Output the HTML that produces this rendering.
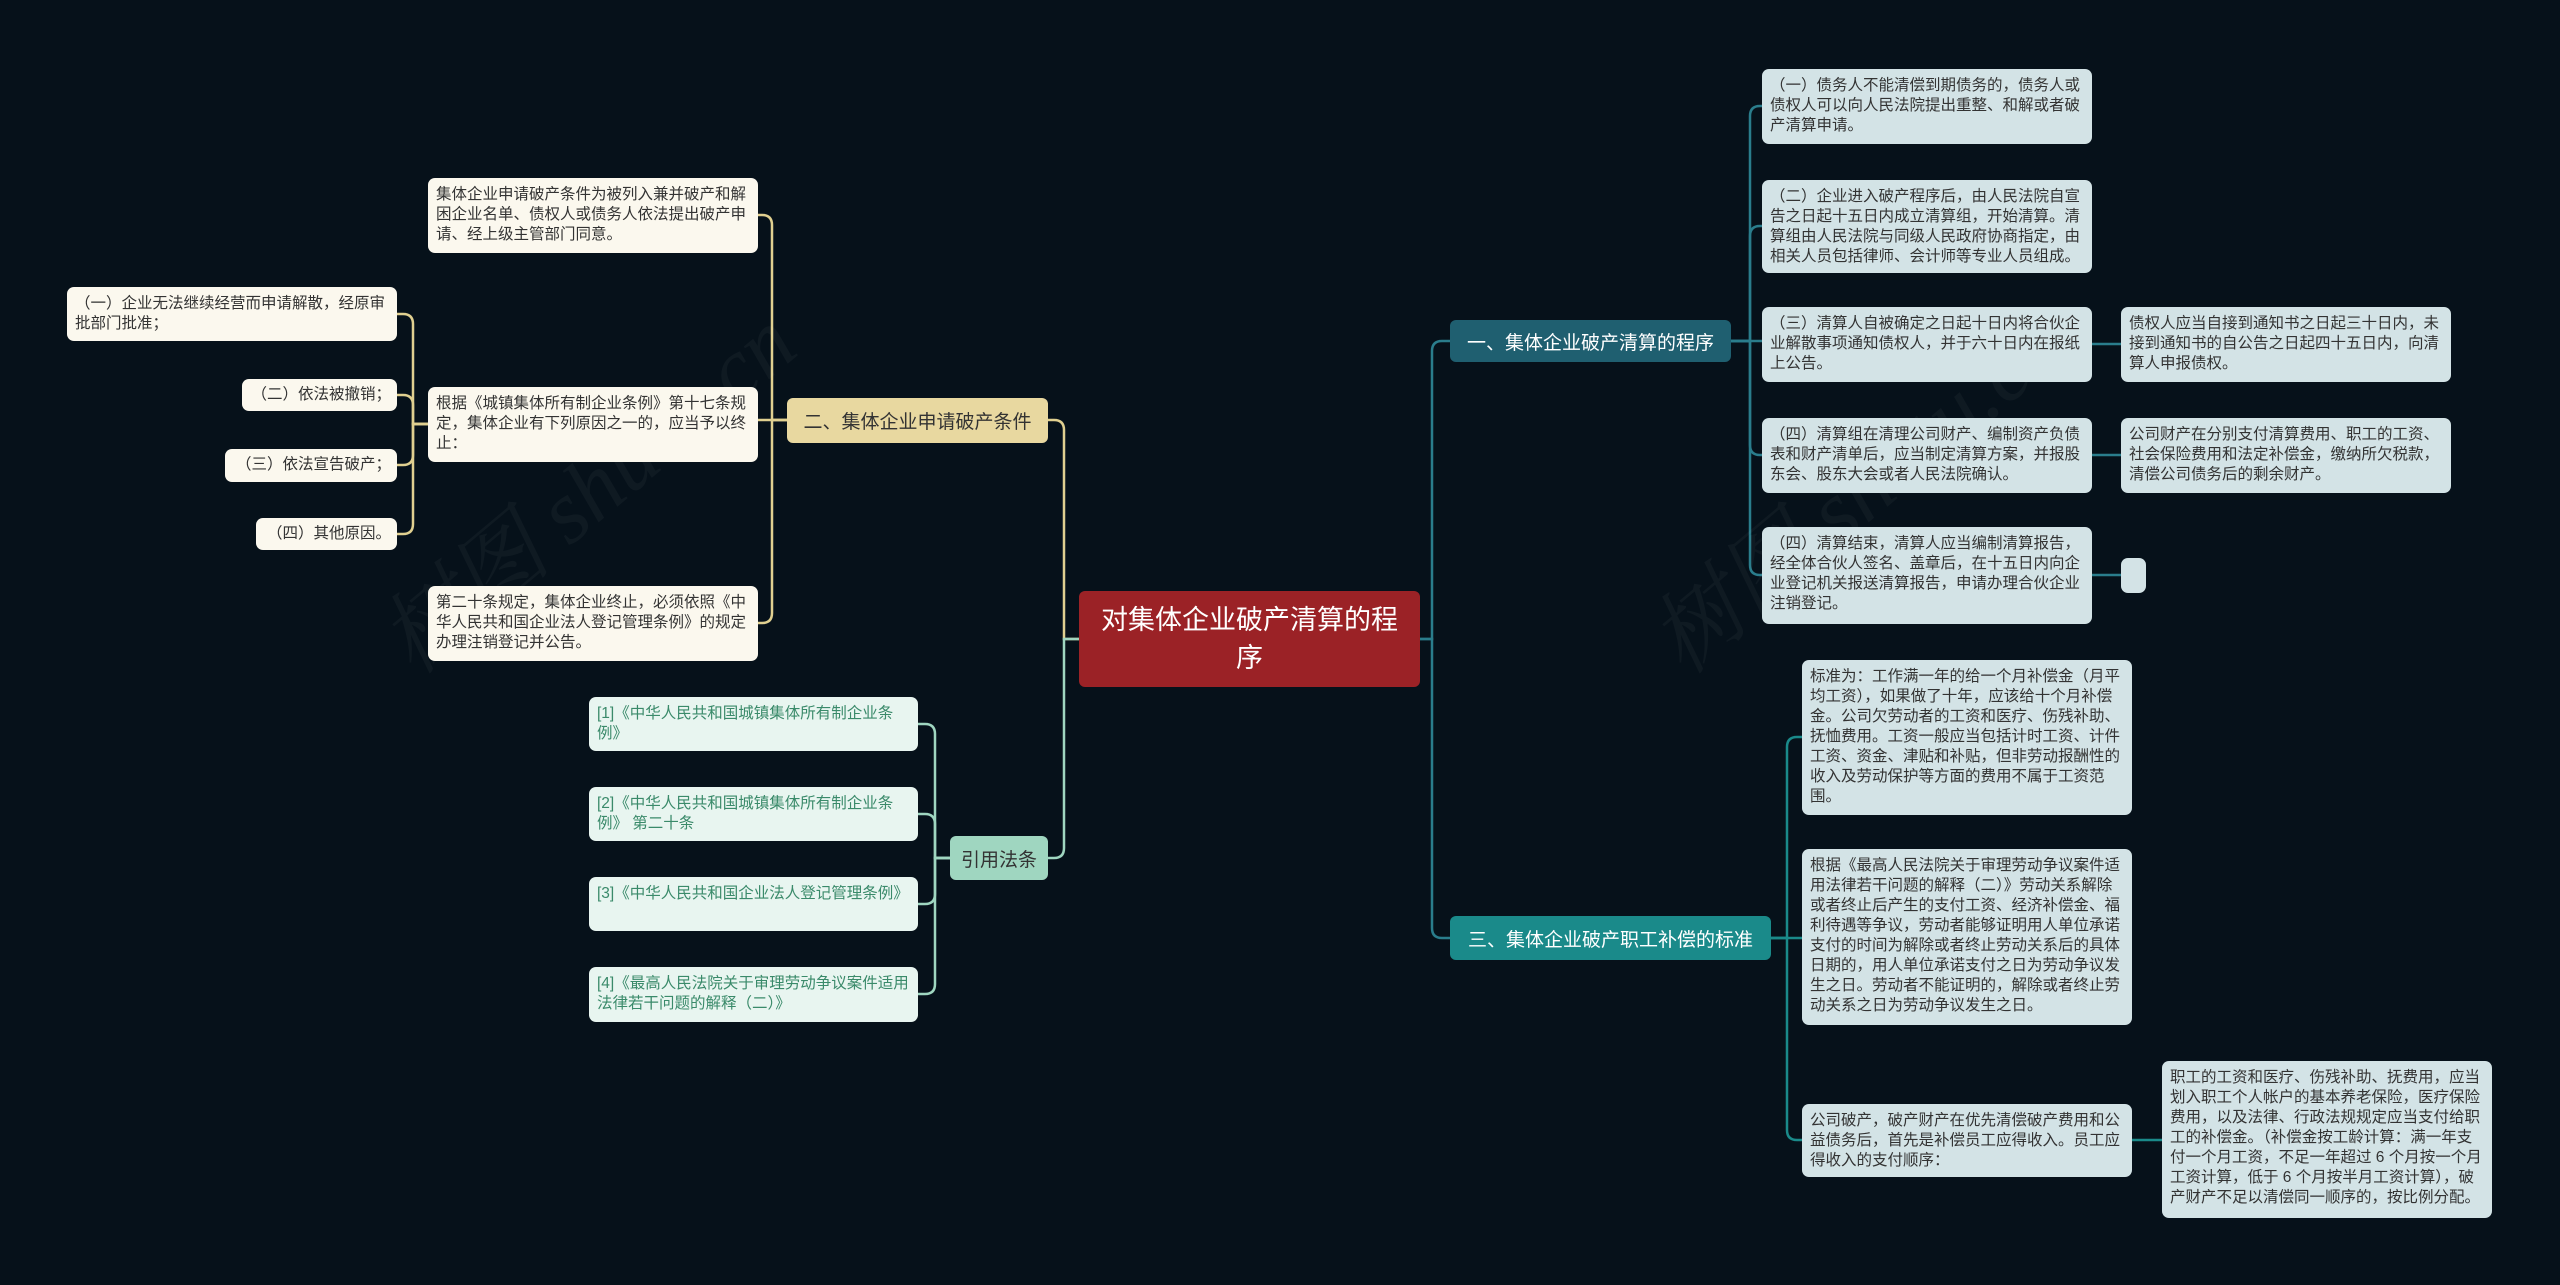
<!DOCTYPE html>
<html><head><meta charset="utf-8"><style>
body{margin:0;width:2560px;height:1285px;background:#06111a;position:relative;overflow:hidden;font-family:"Liberation Sans","Noto Sans CJK SC",sans-serif}
.b{position:absolute;box-sizing:border-box;border-radius:7px;font-size:15.5px;line-height:20px;padding:7px 8px;word-break:break-all;color:#333}
.s{white-space:nowrap;text-align:right;padding:6px 6px!important}
.r{background:#d3e3e6}
.l{background:#fbf8ee}
.f{background:#e8f5f0;color:#3a8a6a}
.h{position:absolute;box-sizing:border-box;border-radius:6px;display:flex;align-items:center;justify-content:center;font-size:19px;text-align:center}
svg{position:absolute;left:0;top:0}
.wm{position:absolute;font-size:90px;color:rgba(255,255,255,0.04);transform:rotate(-40deg);font-family:"Liberation Serif","Noto Serif CJK SC",serif;font-style:italic}
</style></head><body>
<svg width="2560" height="1285" fill="none" stroke-width="2.5">
<g stroke="#2a7d8c">
<path d="M1420,639 H1432 V351 Q1432,341 1442,341 H1450"/>
<path d="M1420,639 H1432 V928 Q1432,938 1442,938 H1450"/>
<path d="M1731,341 H1750 V116 Q1750,106 1760,106 H1762"/>
<path d="M1731,341 H1750 V236 Q1750,226 1760,226 H1762"/>
<path d="M1731,341 H1762"/>
<path d="M1731,341 H1750 V445 Q1750,455 1760,455 H1762"/>
<path d="M1731,341 H1750 V565 Q1750,575 1760,575 H1762"/>
<path d="M2092,344 H2121 M2092,455 H2121 M2092,575 H2121"/>
</g>
<g stroke="#1a8a8a">
<path d="M1771,938 H1787 V747 Q1787,737 1797,737 H1802"/>
<path d="M1771,938 H1802"/>
<path d="M1771,938 H1787 V1130 Q1787,1140 1797,1140 H1802"/>
<path d="M2132,1140 H2162"/>
</g>
<g stroke="#e0d090">
<path d="M1079,639 H1064 V430 Q1064,420 1054,420 H1048"/>
<path d="M787,420 H772 V225 Q772,215 762,215 H758"/>
<path d="M787,420 H758"/>
<path d="M787,420 H772 V613 Q772,623 762,623 H758"/>
<path d="M428,424 H413 V324 Q413,314 403,314 H397"/>
<path d="M428,424 H413 V405 Q413,395 403,395 H397"/>
<path d="M428,424 H413 V455 Q413,465 403,465 H397"/>
<path d="M428,424 H413 V524 Q413,534 403,534 H397"/>
</g>
<g stroke="#9fd6c0">
<path d="M1079,639 H1064 V848 Q1064,858 1054,858 H1048"/>
<path d="M950,858 H935 V734 Q935,724 925,724 H918"/>
<path d="M950,858 H935 V824 Q935,814 925,814 H918"/>
<path d="M950,858 H935 V894 Q935,904 925,904 H918"/>
<path d="M950,858 H935 V984 Q935,994 925,994 H918"/>
</g>
</svg>
<div class="wm" style="left:330px;top:420px">树图 shutu.cn</div>
<div class="wm" style="left:1600px;top:420px">树图 shutu.cn</div>

<div class="h" style="left:1079px;top:591px;width:341px;height:96px;background:#9b2226;color:#fff;font-size:27px;line-height:38px;padding:0 16px">对集体企业破产清算的程序</div>

<div class="h" style="left:1450px;top:320px;width:281px;height:42px;background:#1f5f70;color:#fff">一、集体企业破产清算的程序</div>
<div class="h" style="left:1450px;top:916px;width:321px;height:44px;background:#1a8a8a;color:#fff">三、集体企业破产职工补偿的标准</div>
<div class="h" style="left:787px;top:398px;width:261px;height:45px;background:#e8d8a0;color:#333">二、集体企业申请破产条件</div>
<div class="h" style="left:950px;top:836px;width:98px;height:44px;background:#9fd6c0;color:#333">引用法条</div>

<div class="b r" style="left:1762px;top:69px;width:330px;height:75px">（一）债务人不能清偿到期债务的，债务人或债权人可以向人民法院提出重整、和解或者破产清算申请。</div>
<div class="b r" style="left:1762px;top:180px;width:330px;height:93px">（二）企业进入破产程序后，由人民法院自宣告之日起十五日内成立清算组，开始清算。清算组由人民法院与同级人民政府协商指定，由相关人员包括律师、会计师等专业人员组成。</div>
<div class="b r" style="left:1762px;top:307px;width:330px;height:75px">（三）清算人自被确定之日起十日内将合伙企业解散事项通知债权人，并于六十日内在报纸上公告。</div>
<div class="b r" style="left:1762px;top:418px;width:330px;height:75px">（四）清算组在清理公司财产、编制资产负债表和财产清单后，应当制定清算方案，并报股东会、股东大会或者人民法院确认。</div>
<div class="b r" style="left:1762px;top:527px;width:330px;height:97px">（四）清算结束，清算人应当编制清算报告，经全体合伙人签名、盖章后，在十五日内向企业登记机关报送清算报告，申请办理合伙企业注销登记。</div>
<div class="b r" style="left:2121px;top:307px;width:330px;height:75px">债权人应当自接到通知书之日起三十日内，未接到通知书的自公告之日起四十五日内，向清算人申报债权。</div>
<div class="b r" style="left:2121px;top:418px;width:330px;height:75px">公司财产在分别支付清算费用、职工的工资、社会保险费用和法定补偿金，缴纳所欠税款，清偿公司债务后的剩余财产。</div>
<div class="b r" style="left:2121px;top:558px;width:25px;height:35px;padding:0"></div>

<div class="b r" style="left:1802px;top:660px;width:330px;height:155px">标准为：工作满一年的给一个月补偿金（月平均工资），如果做了十年，应该给十个月补偿金。公司欠劳动者的工资和医疗、伤残补助、抚恤费用。工资一般应当包括计时工资、计件工资、资金、津贴和补贴，但非劳动报酬性的收入及劳动保护等方面的费用不属于工资范围。</div>
<div class="b r" style="left:1802px;top:849px;width:330px;height:176px">根据《最高人民法院关于审理劳动争议案件适用法律若干问题的解释（二）》劳动关系解除或者终止后产生的支付工资、经济补偿金、福利待遇等争议，劳动者能够证明用人单位承诺支付的时间为解除或者终止劳动关系后的具体日期的，用人单位承诺支付之日为劳动争议发生之日。劳动者不能证明的，解除或者终止劳动关系之日为劳动争议发生之日。</div>
<div class="b r" style="left:1802px;top:1104px;width:330px;height:73px">公司破产，破产财产在优先清偿破产费用和公益债务后，首先是补偿员工应得收入。员工应得收入的支付顺序：</div>
<div class="b r" style="left:2162px;top:1061px;width:330px;height:157px">职工的工资和医疗、伤残补助、抚费用，应当划入职工个人帐户的基本养老保险，医疗保险费用，以及法律、行政法规规定应当支付给职工的补偿金。（补偿金按工龄计算：满一年支付一个月工资，不足一年超过 6 个月按一个月工资计算，低于 6 个月按半月工资计算），破产财产不足以清偿同一顺序的，按比例分配。</div>

<div class="b l" style="left:428px;top:178px;width:330px;height:75px">集体企业申请破产条件为被列入兼并破产和解困企业名单、债权人或债务人依法提出破产申请、经上级主管部门同意。</div>
<div class="b l" style="left:428px;top:387px;width:330px;height:75px">根据《城镇集体所有制企业条例》第十七条规定，集体企业有下列原因之一的，应当予以终止：</div>
<div class="b l" style="left:428px;top:586px;width:330px;height:75px">第二十条规定，集体企业终止，必须依照《中华人民共和国企业法人登记管理条例》的规定办理注销登记并公告。</div>
<div class="b l" style="left:67px;top:287px;width:330px;height:54px">（一）企业无法继续经营而申请解散，经原审批部门批准；</div>
<div class="b l s" style="left:242px;top:379px;width:155px;height:32px">（二）依法被撤销；</div>
<div class="b l s" style="left:225px;top:449px;width:172px;height:33px">（三）依法宣告破产；</div>
<div class="b l s" style="left:256px;top:518px;width:141px;height:32px">（四）其他原因。</div>

<div class="b f" style="left:589px;top:697px;width:329px;height:54px">[1]《中华人民共和国城镇集体所有制企业条例》</div>
<div class="b f" style="left:589px;top:787px;width:329px;height:54px">[2]《中华人民共和国城镇集体所有制企业条例》 第二十条</div>
<div class="b f" style="left:589px;top:877px;width:329px;height:54px">[3]《中华人民共和国企业法人登记管理条例》</div>
<div class="b f" style="left:589px;top:967px;width:329px;height:55px">[4]《最高人民法院关于审理劳动争议案件适用法律若干问题的解释（二）》</div>
</body></html>
